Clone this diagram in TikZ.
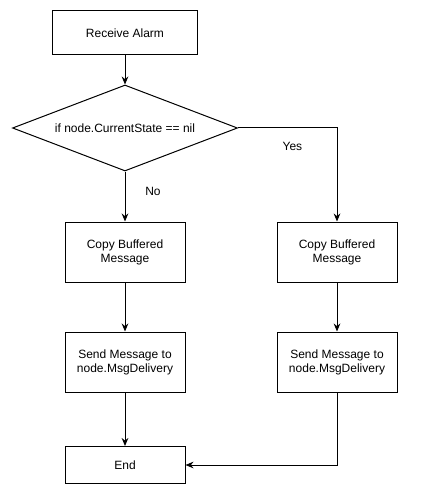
\documentclass[tikz,border=0pt]{standalone}
\usepackage{fontspec}
\setmainfont{Liberation Sans}
\usetikzlibrary{shapes.geometric,arrows.meta}

\begin{document}
\begin{tikzpicture}[x=0.75pt, y=-0.75pt, ->, >={Stealth[length=6pt,width=5pt]}, line width=0.75pt,
    font=\fontsize{9}{10.5}\selectfont,
    stepbox/.style={rectangle, draw, minimum width=90pt, minimum height=45pt, align=center},
    check node/.style={diamond, draw, aspect=2.6, inner sep=0pt, minimum width=168.75pt, minimum height=64.5pt}]
    \useasboundingbox (0,0) rectangle (430,499);

        \node[stepbox, minimum width=108.75pt, minimum height=33pt] (alarm) at (125,33) {Receive Alarm};
        \node[check node] (check) [below of=alarm, node distance=71.25pt] {if node.CurrentState == nil};
        \node[stepbox] (copyL) [below of=check, node distance=93pt] {Copy Buffered\\Message};
        \node[stepbox] (copyR) [right of=copyL, node distance=159pt] {Copy Buffered\\Message};
        \node[stepbox] (sendL) [below of=copyL, node distance=82.5pt] {Send Message to\\node.MsgDelivery};
        \node[stepbox] (sendR) [right of=sendL, node distance=159pt] {Send Message to\\node.MsgDelivery};
        \node[stepbox, minimum height=27.75pt] (end) [below of=sendL, node distance=77.25pt] {End};

        \draw (alarm) -- (check);
        \draw (check.south) -- node[pos=0.39, xshift=21pt] {No} (copyL.north);
        \draw (check.east) -| node[pos=0.275, yshift=-13.5pt] {Yes} (copyR.north);
        \draw (copyL) -- (sendL);
        \draw (copyR) -- (sendR);
        \draw (sendL) -- (end);
        \draw (sendR.south) |- (end.east);

    \end{tikzpicture}
\end{document}
